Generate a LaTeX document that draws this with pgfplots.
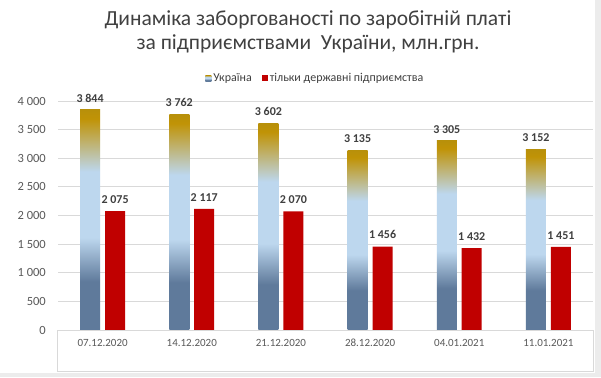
\documentclass[border=0pt]{standalone}
\usepackage{pgfplots}
\pgfplotsset{compat=1.18}
\usepackage{fontspec}
\setmainfont{Carlito}
\definecolor{ukdark}{HTML}{5F7A9B}
\definecolor{uklight}{HTML}{BDD7EE}
\definecolor{ukgold}{HTML}{C09306}
\definecolor{ukgoldtop}{HTML}{B8900A}
\definecolor{ukred}{HTML}{C00000}
\definecolor{gridgray}{HTML}{D9D9D9}
\definecolor{tickgray}{HTML}{595959}
\definecolor{labelgray}{HTML}{404040}
\definecolor{stripgray}{HTML}{ECECEC}
\pgfdeclareverticalshading{ukr}{100bp}{color(0bp)=(ukdark); color(25bp)=(ukdark); color(36bp)=(ukdark); color(46bp)=(uklight); color(61bp)=(uklight); color(73bp)=(ukgold); color(75bp)=(ukgoldtop); color(100bp)=(ukgoldtop)}
\pgfplotstableread{
x state
0.14 2075
1.14 2117
2.14 2070
3.14 1456
4.14 1432
5.14 1451
}\statetable
\begin{document}
\begin{tikzpicture}[x=1pt,y=1pt]
\useasboundingbox (0,0) rectangle (601,377);
\fill[white] (0,0) rectangle (601,377);
\fill[stripgray] (595,0) rectangle (601,377);
\fill[stripgray] (0,0) rectangle (601,4);
\draw[gridgray, line width=0.75pt] (57.5,47) -- (57.5,6) -- (593,6) -- (593,47);
\node[align=center, text=labelgray, font=\fontsize{21.5}{24}\selectfont] at (308,345) {Динаміка заборгованості по заробітній платі\\за підприємствами\ \ України, млн.грн.};
\begin{axis}[
  at={(58pt,47pt)}, anchor=south west,
  scale only axis, width=535pt, height=229pt,
  ymin=0, ymax=4000, ytick={0,500,...,4000},
  xmin=-0.5, xmax=5.5, xtick={0,...,5},
  xticklabels={07.12.2020,14.12.2020,21.12.2020,28.12.2020,04.01.2021,11.01.2021},
  separate axis lines,
  axis x line*=bottom, axis y line*=left,
  y axis line style={draw=none},
  x axis line style={draw=gridgray, line width=0.75pt, -},
  major tick length=0pt,
  ymajorgrids, grid style={gridgray, line width=0.75pt},
  /pgf/number format/.cd, assume math mode=true, 1000 sep={\ }, fixed, precision=0, /pgfplots/.cd,
  yticklabel style={font=\fontsize{12.5}{13}\selectfont, text=tickgray, inner sep=0pt, anchor=east, xshift=-12pt},
  xticklabel style={font=\fontsize{11}{12}\selectfont, text=tickgray, inner sep=0pt, anchor=center, yshift=-13pt},
  nodes near coords,
  nodes near coords style={font=\bfseries\fontsize{12}{12}\selectfont, text=labelgray, inner sep=0pt, anchor=south, yshift=7.5pt},
  legend style={at={(0.275,1.10)}, anchor=west, draw=none, fill=none, legend columns=2,
    font=\fontsize{12}{13}\selectfont, text=labelgray, inner sep=0pt,
    /tikz/every even column/.append style={column sep=8pt}},
  legend cell align=left,
  clip=false,
  ukbar/.style={ybar, bar width=20pt, bar shift=0pt, draw=none, shade, shading=ukr},
]
\addplot[ukbar,
  legend image code/.code={\path[shade, shading=ukr] (0pt,-3pt) rectangle (6pt,3pt);}]
  coordinates {(-0.14,3844)};
\addlegendentry{Україна}
\addplot[ybar, bar width=20pt, bar shift=0pt, draw=none, fill=ukred,
  legend image code/.code={\fill[ukred] (0pt,-3pt) rectangle (6pt,3pt);}]
  table[x=x, y=state] {\statetable};
\addlegendentry{тільки державні підприємства}
\addplot[ukbar, forget plot] coordinates {(0.86,3762)};
\addplot[ukbar, forget plot] coordinates {(1.86,3602)};
\addplot[ukbar, forget plot] coordinates {(2.86,3135)};
\addplot[ukbar, forget plot] coordinates {(3.86,3305)};
\addplot[ukbar, forget plot] coordinates {(4.86,3152)};
\end{axis}
\end{tikzpicture}
\end{document}
